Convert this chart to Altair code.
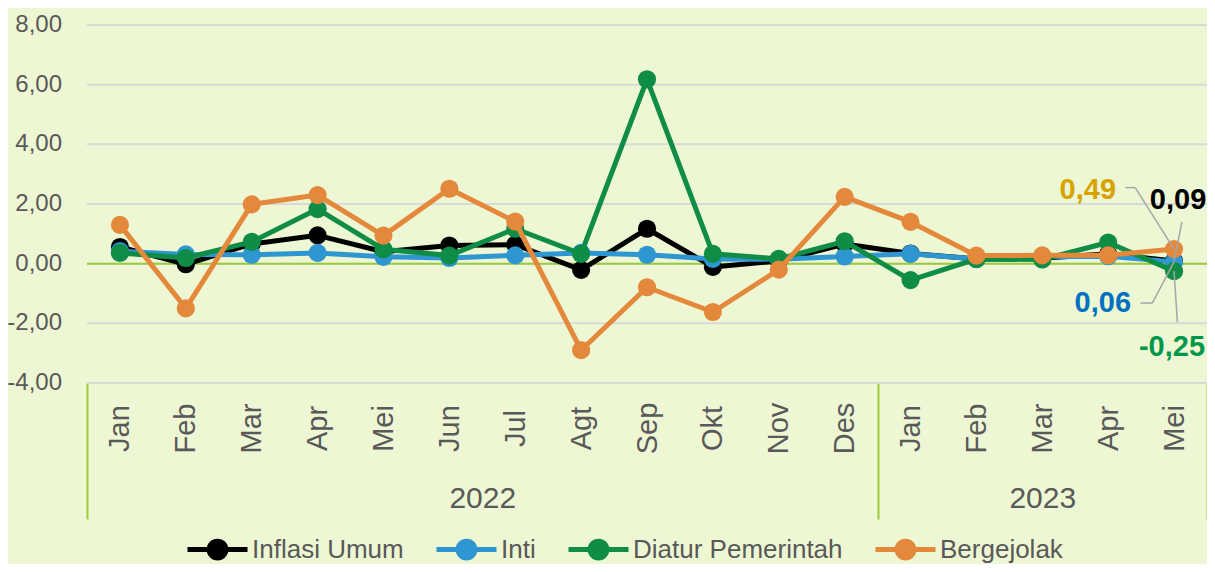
import altair as alt
import pandas as pd

months = ["Jan", "Feb", "Mar", "Apr", "Mei", "Jun", "Jul", "Agt", "Sep", "Okt", "Nov", "Des",
          "Jan", "Feb", "Mar", "Apr", "Mei"]
year_names = ["2022", "2023"]
year_counts = [12, 5]

y_ticks = [-4, -2, 0, 2, 4, 6, 8]
y_tick_labels = ["-4,00", "-2,00", "0,00", "2,00", "4,00", "6,00", "8,00"]

series_names = ["Inflasi Umum", "Inti", "Diatur Pemerintah", "Bergejolak"]
series_colors = ["#000000", "#2E96D0", "#0F8C46", "#E4893B"]

inflasi_umum = [0.56, -0.02, 0.66, 0.95, 0.40, 0.61, 0.64, -0.21, 1.17, -0.11, 0.09, 0.66,
                0.34, 0.16, 0.18, 0.33, 0.09]
inti = [0.42, 0.31, 0.30, 0.36, 0.23, 0.19, 0.28, 0.36, 0.30, 0.16, 0.15, 0.24,
        0.33, 0.16, 0.23, 0.25, 0.06]
diatur_pemerintah = [0.36, 0.19, 0.73, 1.83, 0.48, 0.27, 1.17, 0.33, 6.18, 0.33, 0.16, 0.75,
                     -0.55, 0.15, 0.14, 0.71, -0.25]
bergejolak = [1.30, -1.50, 1.99, 2.30, 0.94, 2.51, 1.41, -2.90, -0.79, -1.62, -0.20, 2.24,
              1.40, 0.27, 0.28, 0.28, 0.49]

values_by_series = [inflasi_umum, inti, diatur_pemerintah, bergejolak]
label_colors = ["#000000", "#0070C0", "#00974A", "#D6A300"]

FONT = "Liberation Sans, Arial, sans-serif"
TEXT = "#595959"
GREEN_LINE = "#9BCB3C"

rows = []
for name, vals in zip(series_names, values_by_series):
    for i, v in enumerate(vals):
        rows.append({"idx": i, "month": months[i], "series": name, "value": v})
df = pd.DataFrame(rows)
ydf = pd.DataFrame({"v": y_ticks, "lbl": y_tick_labels})

n = len(months)
xscale = alt.Scale(domain=[-0.5, n - 0.5], nice=False, zero=False)
yscale = alt.Scale(domain=[min(y_ticks), max(y_ticks)], nice=False, zero=False)

month_expr = "[" + ",".join("'%s'" % m for m in months) + "][datum.value]"
month_axis = alt.Axis(values=list(range(n)), labelExpr=month_expr, labelAngle=270,
                      labelAlign="center", labelBaseline="middle", labelPadding=45,
                      ticks=False, domain=False, grid=False, labelFont=FONT, labelFontSize=29,
                      labelColor=TEXT, labelFlush=False, labelOverlap=False, title=None,
                      orient="bottom")

# year groups
bounds = [-0.5]
centers = []
start = 0
for c in year_counts:
    centers.append(start + (c - 1) / 2)
    start += c
    bounds.append(start - 0.5)
year_expr = " : ".join("datum.value == %s ? '%s'" % (c, y) for c, y in zip(centers, year_names)) + " : ''"
center_test = " || ".join("datum.value == %s" % c for c in centers)
year_axis = alt.Axis(values=sorted(bounds + centers), labelExpr=year_expr, labelAngle=0,
                     labelAlign="center", labelBaseline="middle", labelPadding=-21,
                     ticks=True, tickSize=136, tickWidth=2, tickColor=GREEN_LINE,
                     tickOpacity={"condition": {"test": center_test, "value": 0}, "value": 1},
                     domain=False, grid=False, labelFont=FONT, labelFontSize=30,
                     labelColor=TEXT, labelFlush=False, labelOverlap=False, title=None,
                     orient="bottom")

LEGEND_PATH = ("M-1,0H1 "
               "M0.28,0A0.28,0.28 0 1,1 -0.28,0A0.28,0.28 0 1,1 0.28,0 "
               "M0.15,0A0.15,0.15 0 1,1 -0.15,0A0.15,0.15 0 1,1 0.15,0 "
               "M0.04,0A0.04,0.04 0 1,1 -0.04,0A0.04,0.04 0 1,1 0.04,0")
legend = alt.Legend(title=None, orient="none", legendX=98, legendY=492, direction="horizontal",
                    columns=4, symbolType=LEGEND_PATH, symbolSize=3600, symbolStrokeWidth=5,
                    labelFont=FONT, labelFontSize=26, labelColor=TEXT, labelOffset=2,
                    columnPadding=22, padding=0, labelLimit=400)
cscale = alt.Scale(domain=series_names, range=series_colors)

base = alt.Chart(df)

layers = []
# horizontal gridlines and value labels
layers.append(alt.Chart(ydf).mark_rule(color="#D9D9D9", strokeWidth=2).encode(
    y=alt.Y("v:Q", scale=yscale, axis=None)))
layers.append(alt.Chart(ydf).mark_text(align="right", baseline="middle", font=FONT,
                                       fontSize=24, color=TEXT).encode(
    x=alt.value(-25),
    y=alt.Y("v:Q", scale=yscale, axis=None),
    text="lbl:N"))
# zero line
layers.append(alt.Chart().mark_rule(color=GREEN_LINE, strokeWidth=2).encode(
    y=alt.Y(datum=0, type="quantitative", scale=yscale, axis=None)))

first = True
for name in series_names:
    sub = base.transform_filter(alt.datum.series == name)
    line = sub.mark_line(strokeWidth=5, strokeJoin="round").encode(
        x=alt.X("idx:Q", scale=xscale, axis=month_axis if first else None),
        y=alt.Y("value:Q", scale=yscale, axis=None),
        color=alt.Color("series:N", scale=cscale, legend=legend),
    )
    pts = sub.mark_point(filled=True, size=330, opacity=1, strokeWidth=0).encode(
        x=alt.X("idx:Q", scale=xscale, axis=None),
        y=alt.Y("value:Q", scale=yscale, axis=None),
        color=alt.Color("series:N", scale=cscale, legend=None),
    )
    layers += [line, pts]
    first = False

# year axis carrier (invisible)
layers.append(alt.Chart(pd.DataFrame({"c": centers})).mark_point(opacity=0).encode(
    x=alt.X("c:Q", scale=xscale, axis=year_axis),
    y=alt.Y(datum=0, type="quantitative", scale=yscale, axis=None)))

# leader lines for latest values (x in category index units, y in %)
last = n - 1
leaders = [
    (last - 0.74, 2.55, last - 0.59, 2.55), (last - 0.59, 2.55, last, bergejolak[-1]),
    (last + 0.12, 1.40, last, inflasi_umum[-1]),
    (last - 0.51, -1.32, last - 0.33, -1.32), (last - 0.33, -1.32, last, inti[-1]),
    (last, diatur_pemerintah[-1], last + 0.05, -1.96),
]
for x1, y1, x2, y2 in leaders:
    layers.append(alt.Chart().mark_rule(color="#A6A6A6", strokeWidth=1.5).encode(
        x=alt.X(datum=x1, type="quantitative", scale=xscale, axis=None),
        y=alt.Y(datum=y1, type="quantitative", scale=yscale, axis=None),
        x2=alt.X2(datum=x2), y2=alt.Y2(datum=y2)))

fmt = lambda v: ("%.2f" % v).replace(".", ",")
ann = [  # (value, color, align, dx, dy)
    (bergejolak[-1], label_colors[3], "right", -58, -59),
    (inflasi_umum[-1], label_colors[0], "center", 4, -61),
    (inti[-1], label_colors[1], "right", -43, 41),
    (diatur_pemerintah[-1], label_colors[2], "right", 31, 76),
]
for v, col, al, dx, dy in ann:
    layers.append(alt.Chart().mark_text(text=fmt(v), color=col, font=FONT, fontSize=29,
                                        fontWeight="bold", align=al, baseline="middle",
                                        dx=dx, dy=dy).encode(
        x=alt.X(datum=last, type="quantitative", scale=xscale, axis=None),
        y=alt.Y(datum=v, type="quantitative", scale=yscale, axis=None)))

chart = alt.layer(*layers).resolve_axis(x="independent").properties(
    width=1120, height=358,
    autosize=alt.AutoSizeParams(type="none"),
    padding={"left": 79, "top": 17, "right": 0, "bottom": 181},
    background="#EDF7D3",
).configure_view(stroke=None)

chart.save("out.html", embed_options={"renderer": "svg", "actions": False})
